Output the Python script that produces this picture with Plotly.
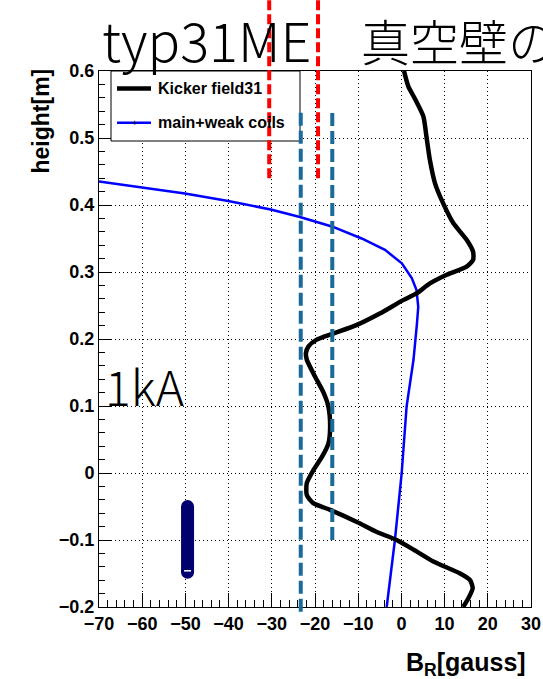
import plotly.graph_objects as go

# ---------------- data ----------------
x_range = [-70, 30]
y_range = [-0.2, 0.6]

kicker_y = [0.600, 0.577, 0.559, 0.532, 0.502, 0.467, 0.432, 0.402, 0.373, 0.348,
            0.330, 0.318, 0.308, 0.296, 0.283, 0.268, 0.258, 0.238, 0.221, 0.208,
            0.199, 0.189, 0.179, 0.169, 0.144, 0.121, 0.099, 0.069, 0.044, 0.024,
            0.004, -0.015, -0.033, -0.045, -0.055, -0.073, -0.088, -0.100, -0.117,
            -0.132, -0.150, -0.160, -0.172, -0.187, -0.200]
kicker_x = [0.6, 1.6, 3.1, 5.1, 5.8, 6.6, 7.8, 9.7, 12.0, 15.1,
            16.6, 16.6, 15.1, 10.5, 6.6, 3.5, 0.4, -5.0, -10.3, -15.8,
            -19.6, -21.5, -22.1, -21.9, -20.0, -18.1, -16.9, -16.5, -16.9, -18.4,
            -20.4, -21.9, -21.9, -20.4, -16.5, -10.3, -5.7, -1.1, 3.5,
            7.4, 13.6, 15.9, 16.5, 15.5, 14.3]

coil_y = [0.435, 0.426, 0.417, 0.406, 0.393, 0.382, 0.368, 0.350, 0.333, 0.313,
          0.291, 0.273, 0.258, 0.248, 0.223, 0.184, 0.169, 0.099, 0.0, -0.1, -0.2]
coil_x = [-70.0, -60.1, -50.1, -40.1, -30.0, -23.5, -16.1, -9.2, -3.8, 0.1,
          2.4, 3.5, 3.8, 3.9, 3.6, 3.0, 2.8, 1.2, 0.07, -1.5, -3.4]

red_x = [-30.6, -19.3]
red_y = [0.44, 0.706]
teal_x = [-23.3, -16.0]
teal_y0 = [-0.207, -0.1]
teal_y1 = [0.54, 0.54]
bar_x = -49.5
bar_y = [-0.05, -0.148]
bar_mark_y = -0.146

legend_labels = ["Kicker field31", "main+weak coils"]
title_left = "typ31ME"
title_right = "真空壁の"
note_text = "1kA"
x_title = "B<sub>R</sub>[gauss]"
y_title = "height[m]"

# ---------------- layout geometry ----------------
W, H = 543, 679
L, R, T, B = 99, 531, 71, 607


def px(p):
    return (p - L) / (R - L)


def py(p):
    return (B - p) / (B - T)


def yp(v):
    return (v - y_range[0]) / (y_range[1] - y_range[0])


BOLD = "Liberation Sans, Arial, Helvetica, sans-serif"
CJK = "Noto Sans CJK JP, Noto Sans, sans-serif"
TEAL = "#1a6a9a"
NAVY = "#00006e"

fig = go.Figure()

fig.add_trace(go.Scatter(x=coil_x, y=coil_y, mode="lines",
                         line=dict(color="#0000ff", width=2.5),
                         name=legend_labels[1], showlegend=False))
fig.add_trace(go.Scatter(x=kicker_x, y=kicker_y, mode="lines",
                         line=dict(color="black", width=4.5, shape="spline", smoothing=0.6),
                         name=legend_labels[0], showlegend=False))
# capsule marker
fig.add_trace(go.Scatter(x=[bar_x, bar_x], y=bar_y, mode="lines+markers",
                         line=dict(color=NAVY, width=13),
                         marker=dict(color=NAVY, size=13, symbol="circle", line=dict(width=0)),
                         showlegend=False, hoverinfo="skip"))
fig.add_trace(go.Scatter(x=[bar_x], y=[bar_mark_y], mode="markers",
                         marker=dict(symbol="line-ew", size=5, line=dict(color="white", width=1.5)),
                         showlegend=False, hoverinfo="skip"))

shapes = []
# legend box
shapes.append(dict(type="rect", xref="paper", yref="paper",
                   x0=px(111), x1=px(300), y0=py(141), y1=py(71),
                   line=dict(color="black", width=1), fillcolor="white", layer="above"))
shapes.append(dict(type="line", xref="paper", yref="paper",
                   x0=px(117), x1=px(151), y0=py(88.5), y1=py(88.5),
                   line=dict(color="black", width=4.5), layer="above"))
shapes.append(dict(type="line", xref="paper", yref="paper",
                   x0=px(117), x1=px(151), y0=py(122.7), y1=py(122.7),
                   line=dict(color="#0000ff", width=2.5), layer="above"))
# teal dashed lines
for xv, y0, y1 in zip(teal_x, teal_y0, teal_y1):
    shapes.append(dict(type="line", xref="x", yref="paper", x0=xv, x1=xv,
                       y0=yp(y0), y1=yp(y1),
                       line=dict(color=TEAL, width=4, dash="13px,5px"), layer="above"))
# red dashed lines
for xv in red_x:
    shapes.append(dict(type="line", xref="x", yref="paper", x0=xv, x1=xv,
                       y0=yp(red_y[0]), y1=yp(red_y[1]),
                       line=dict(color="#ff0000", width=4, dash="10px,4px"), layer="above"))

annotations = [
    dict(text=legend_labels[0], xref="paper", yref="paper", x=px(156), y=py(88.5),
         xanchor="left", yanchor="middle", showarrow=False,
         font=dict(family=BOLD, size=16, color="black", weight="bold")),
    dict(text=legend_labels[1], xref="paper", yref="paper", x=px(156), y=py(122.7),
         xanchor="left", yanchor="middle", showarrow=False,
         font=dict(family=BOLD, size=16, color="black", weight="bold")),
    dict(text="+", xref="paper", yref="paper", x=px(134), y=py(122.7),
         xanchor="center", yanchor="middle", showarrow=False,
         font=dict(family=BOLD, size=9, color="black")),
    dict(text=title_left, xref="paper", yref="paper", x=px(100), y=py(38),
         xanchor="left", yanchor="middle", showarrow=False,
         font=dict(family=CJK, size=54, color="black", weight=300)),
    dict(text=title_right, xref="paper", yref="paper", x=px(359), y=py(39),
         xanchor="left", yanchor="middle", showarrow=False,
         font=dict(family=CJK, size=49, color="black", weight=300)),
    dict(text=note_text, xref="paper", yref="paper", x=px(103), y=py(385),
         xanchor="left", yanchor="middle", showarrow=False,
         font=dict(family=CJK, size=48, color="black", weight=300)),
    dict(text=x_title, xref="paper", yref="paper", x=px(528), y=py(664),
         xanchor="right", yanchor="middle", showarrow=False,
         font=dict(family=BOLD, size=25, color="black", weight="bold")),
    dict(text=y_title, xref="paper", yref="paper", x=px(40), y=py(121.5),
         xanchor="center", yanchor="middle", showarrow=False, textangle=-90,
         font=dict(family=BOLD, size=23, color="black", weight="bold")),
]

axis_common = dict(showline=True, linecolor="black", linewidth=1, mirror=True,
                   ticks="inside", tickcolor="black", tickwidth=1,
                   showgrid=True, gridcolor="black", gridwidth=1, griddash="1px,3px",
                   zeroline=False, automargin=False,
                   tickfont=dict(family=BOLD, size=18, color="black", weight="bold"))

fig.update_layout(
    width=W, height=H, autosize=False,
    margin=dict(l=L, r=W - R, t=T, b=H - B, pad=0, autoexpand=False),
    paper_bgcolor="white", plot_bgcolor="white",
    showlegend=False,
    shapes=shapes, annotations=annotations,
    xaxis=dict(range=x_range, dtick=10, tick0=0, ticklen=14,
               minor=dict(ticks="inside", dtick=2, ticklen=7, tickcolor="black", showgrid=False),
               **axis_common),
    yaxis=dict(range=y_range, dtick=0.1, tick0=0, ticklen=12,
               minor=dict(ticks="inside", dtick=0.02, ticklen=6, tickcolor="black", showgrid=False),
               **axis_common),
)

fig.write_html("out.html", config={"responsive": False})
